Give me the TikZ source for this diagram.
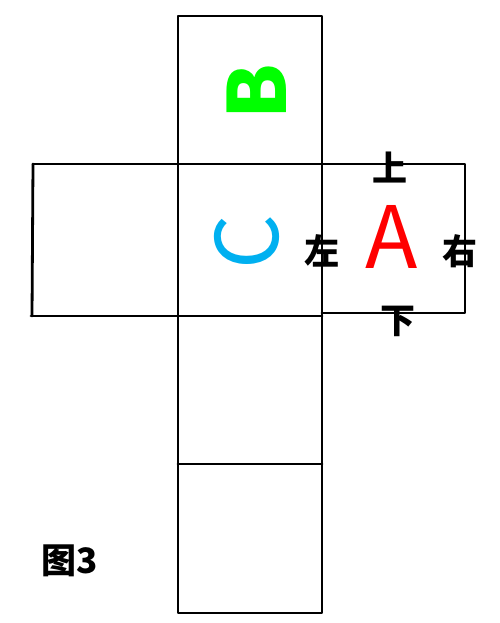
\documentclass[tikz,border=0pt]{standalone}
\usepackage{fontspec}
\newfontfamily\cjk{Noto Sans CJK SC}
\definecolor{bgreen}{RGB}{0,255,0}
\definecolor{cblue}{RGB}{0,176,240}
\definecolor{ared}{RGB}{255,0,0}
\tikzset{
  edge/.style={line width=2.8pt, line cap=round, line join=round},
  dir/.style={font=\cjk\bfseries\fontsize{35}{35}\selectfont, inner sep=0pt},
  big/.style={font=\cjk\fontsize{86}{86}\selectfont, inner sep=0pt}
}
\begin{document}
\begin{tikzpicture}[x=1pt,y=-1pt]
\useasboundingbox (0,0) rectangle (499,623);
% column
\draw[edge] (178,16) rectangle (322,613);
\draw[edge] (178,464) -- (322,464);
% cross arms
\draw[edge] (33,164) -- (465,164) -- (465,313) -- (322,313);
\draw[edge] (33,164) -- (32,316);
\draw[edge] (31,316) -- (322,316);
% letters
\node[big, text=bgreen, rotate=90, font=\cjk\bfseries\fontsize{80}{80}\selectfont] (b) at (257,92) {B};
\node[big, text=cblue, rotate=90] (c) at (247,242) {C};
\node[big, text=ared] (a) at (392,237) {A};
\node[dir] (up) at (390,168) {上};
\node[dir] (left) at (322,251) {左};
\node[dir] (right) at (460,251) {右};
\node[dir] (down) at (398,321) {下};
\node[dir, anchor=west] (fig) at (41,561) {图3};
\end{tikzpicture}
\end{document}
